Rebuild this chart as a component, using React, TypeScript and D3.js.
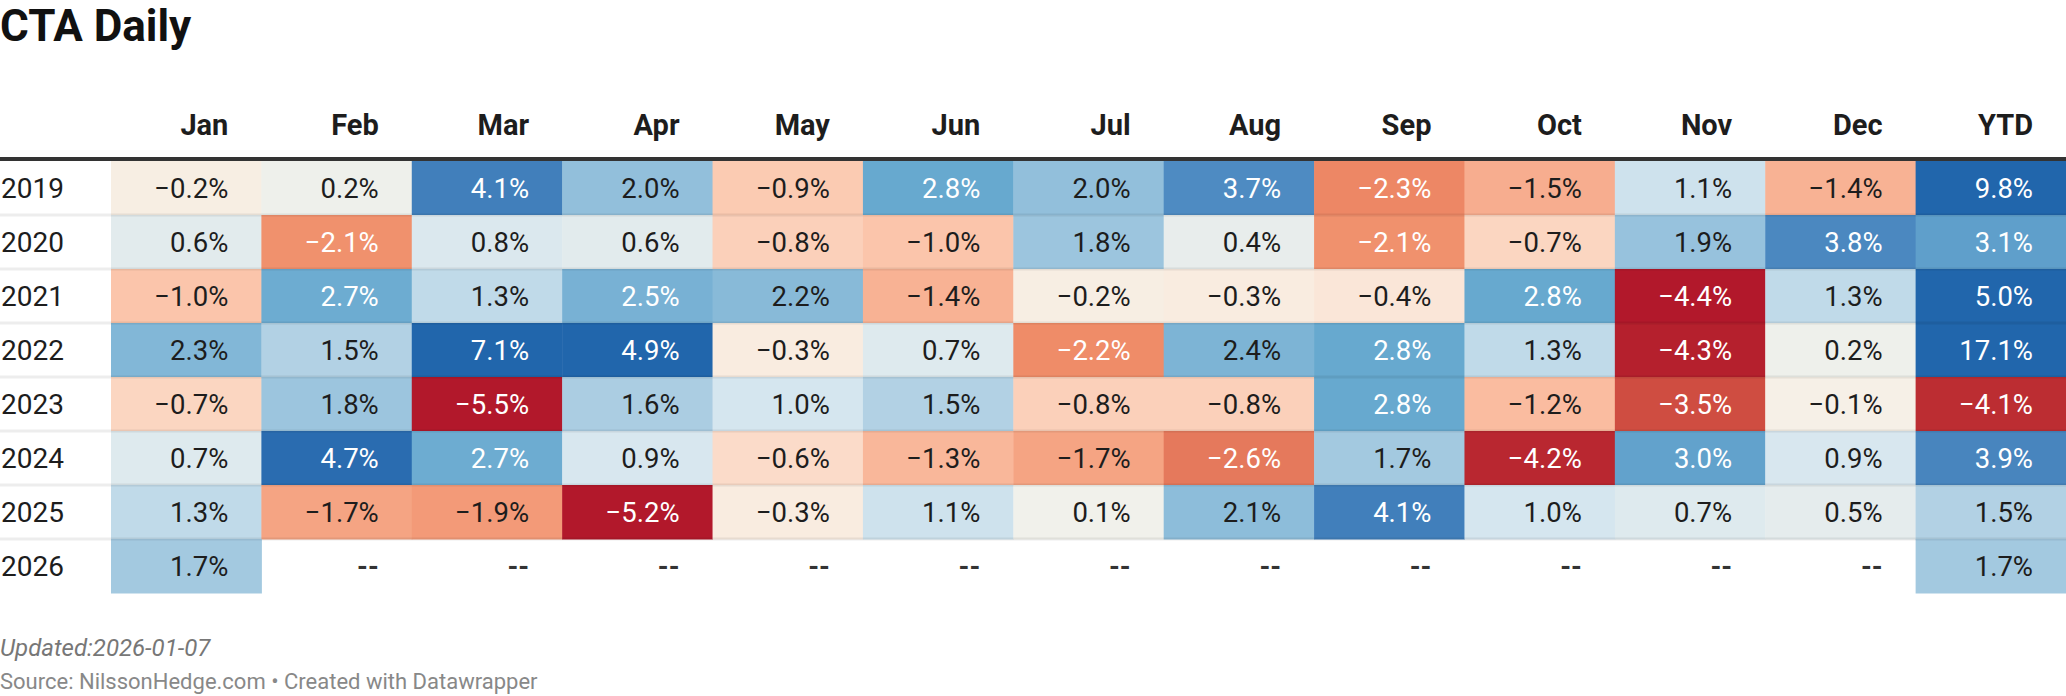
import React, { useEffect, useRef } from 'react';
import * as d3 from 'd3';

// Monthly CTA returns (%), null = not yet available
const years = ['2019', '2020', '2021', '2022', '2023', '2024', '2025', '2026'];
const columns = ['Jan', 'Feb', 'Mar', 'Apr', 'May', 'Jun', 'Jul', 'Aug', 'Sep', 'Oct', 'Nov', 'Dec', 'YTD'];

const r2019 = [-0.2, 0.2, 4.1, 2.0, -0.9, 2.8, 2.0, 3.7, -2.3, -1.5, 1.1, -1.4, 9.8];
const r2020 = [0.6, -2.1, 0.8, 0.6, -0.8, -1.0, 1.8, 0.4, -2.1, -0.7, 1.9, 3.8, 3.1];
const r2021 = [-1.0, 2.7, 1.3, 2.5, 2.2, -1.4, -0.2, -0.3, -0.4, 2.8, -4.4, 1.3, 5.0];
const r2022 = [2.3, 1.5, 7.1, 4.9, -0.3, 0.7, -2.2, 2.4, 2.8, 1.3, -4.3, 0.2, 17.1];
const r2023 = [-0.7, 1.8, -5.5, 1.6, 1.0, 1.5, -0.8, -0.8, 2.8, -1.2, -3.5, -0.1, -4.1];
const r2024 = [0.7, 4.7, 2.7, 0.9, -0.6, -1.3, -1.7, -2.6, 1.7, -4.2, 3.0, 0.9, 3.9];
const r2025 = [1.3, -1.7, -1.9, -5.2, -0.3, 1.1, 0.1, 2.1, 4.1, 1.0, 0.7, 0.5, 1.5];
const r2026 = [1.7, null, null, null, null, null, null, null, null, null, null, null, 1.7];

const rows: (number | null)[][] = [r2019, r2020, r2021, r2022, r2023, r2024, r2025, r2026];

const title = 'CTA Daily';
const updated = 'Updated:2026-01-07';
const source = 'Source: NilssonHedge.com • Created with Datawrapper';

const WIDTH = 2066;
const HEIGHT = 696;
const FONT = 'Roboto, "Noto Sans", sans-serif';

const fmt = (v: number) => `${v < 0 ? '\u2212' : ''}${Math.abs(v).toFixed(1)}%`;

const App: React.FC = () => {
  const svgRef = useRef<SVGSVGElement | null>(null);

  useEffect(() => {
    if (!svgRef.current) return;
    const svg = d3.select(svgRef.current);
    svg.selectAll('*').remove();

    const x = d3.scaleBand<string>().domain(columns).range([111, WIDTH]);
    const y = d3.scaleBand<string>().domain(years).range([161, 593]);

    const color = d3
      .scaleLinear<string>()
      .domain([-4.4, -3.5, -2.2, -1.0, -0.3, 0, 1.0, 1.8, 2.8, 3.8, 4.9])
      .range(['#b2182b', '#cf4d41', '#ef8c68', '#fbc5ab', '#f9ece0', '#f4f2ea', '#d5e6ef', '#9cc5de', '#67a9cf', '#4b88c0', '#2166ac'])
      .interpolate(d3.interpolateLab)
      .clamp(true);

    const textColor = (v: number) => (v >= 2.5 || v <= -2.0 ? '#ffffff' : '#1d1d1d');

    // title
    svg
      .append('text')
      .attr('x', 0)
      .attr('y', 41)
      .attr('font-family', FONT)
      .attr('font-weight', 700)
      .attr('font-size', 44)
      .attr('fill', '#111')
      .text(title);

    // column headers
    svg
      .append('g')
      .selectAll('text')
      .data(columns)
      .enter()
      .append('text')
      .attr('x', (d) => x(d)! + x.bandwidth() - 33)
      .attr('y', 135)
      .attr('text-anchor', 'end')
      .attr('font-family', FONT)
      .attr('font-weight', 700)
      .attr('font-size', 29)
      .attr('fill', '#1d1d1d')
      .text((d) => d);

    const cells = rows.flatMap((row, i) =>
      row.map((v, j) => ({ year: years[i], col: columns[j], v }))
    );

    // heat cells
    svg
      .append('g')
      .selectAll('rect')
      .data(cells.filter((c) => c.v !== null))
      .enter()
      .append('rect')
      .attr('x', (d) => x(d.col)!)
      .attr('y', (d) => y(d.year)!)
      .attr('width', x.bandwidth() + 0.5)
      .attr('height', y.bandwidth() + 0.5)
      .attr('fill', (d) => color(d.v as number));

    // row separators
    svg
      .append('g')
      .selectAll('line')
      .data(years.slice(1))
      .enter()
      .append('line')
      .attr('x1', 0)
      .attr('x2', WIDTH)
      .attr('y1', (d) => y(d)!)
      .attr('y2', (d) => y(d)!)
      .attr('stroke', 'rgba(0,0,0,0.07)')
      .attr('stroke-width', 3);

    // header rule
    svg
      .append('line')
      .attr('x1', 0)
      .attr('x2', WIDTH)
      .attr('y1', 159)
      .attr('y2', 159)
      .attr('stroke', '#333')
      .attr('stroke-width', 4);

    // year labels
    svg
      .append('g')
      .selectAll('text')
      .data(years)
      .enter()
      .append('text')
      .attr('x', 1)
      .attr('y', (d) => y(d)! + y.bandwidth() / 2 + 10)
      .attr('font-family', FONT)
      .attr('font-size', 28)
      .attr('fill', '#1d1d1d')
      .text((d) => d);

    // cell values
    svg
      .append('g')
      .selectAll('text')
      .data(cells)
      .enter()
      .append('text')
      .attr('x', (d) => x(d.col)! + x.bandwidth() - 33)
      .attr('y', (d) => y(d.year)! + y.bandwidth() / 2 + 10)
      .attr('text-anchor', 'end')
      .attr('font-family', FONT)
      .attr('font-size', 27.5)
      .attr('font-weight', (d) => (d.v === null ? 700 : 400))
      .attr('fill', (d) => (d.v === null ? '#333' : textColor(d.v)))
      .text((d) => (d.v === null ? '--' : fmt(d.v)));

    // footer
    svg
      .append('text')
      .attr('x', 0)
      .attr('y', 656)
      .attr('font-family', FONT)
      .attr('font-style', 'italic')
      .attr('font-size', 24)
      .attr('fill', '#777')
      .text(updated);

    svg
      .append('text')
      .attr('x', 0)
      .attr('y', 689)
      .attr('font-family', FONT)
      .attr('font-size', 22)
      .attr('fill', '#888')
      .text(source);
  }, []);

  return (
    <svg
      ref={svgRef}
      width={WIDTH}
      height={HEIGHT}
      viewBox={`0 0 ${WIDTH} ${HEIGHT}`}
      style={{ position: 'absolute', left: 0, top: 0, background: '#fff' }}
    />
  );
};

export default App;
